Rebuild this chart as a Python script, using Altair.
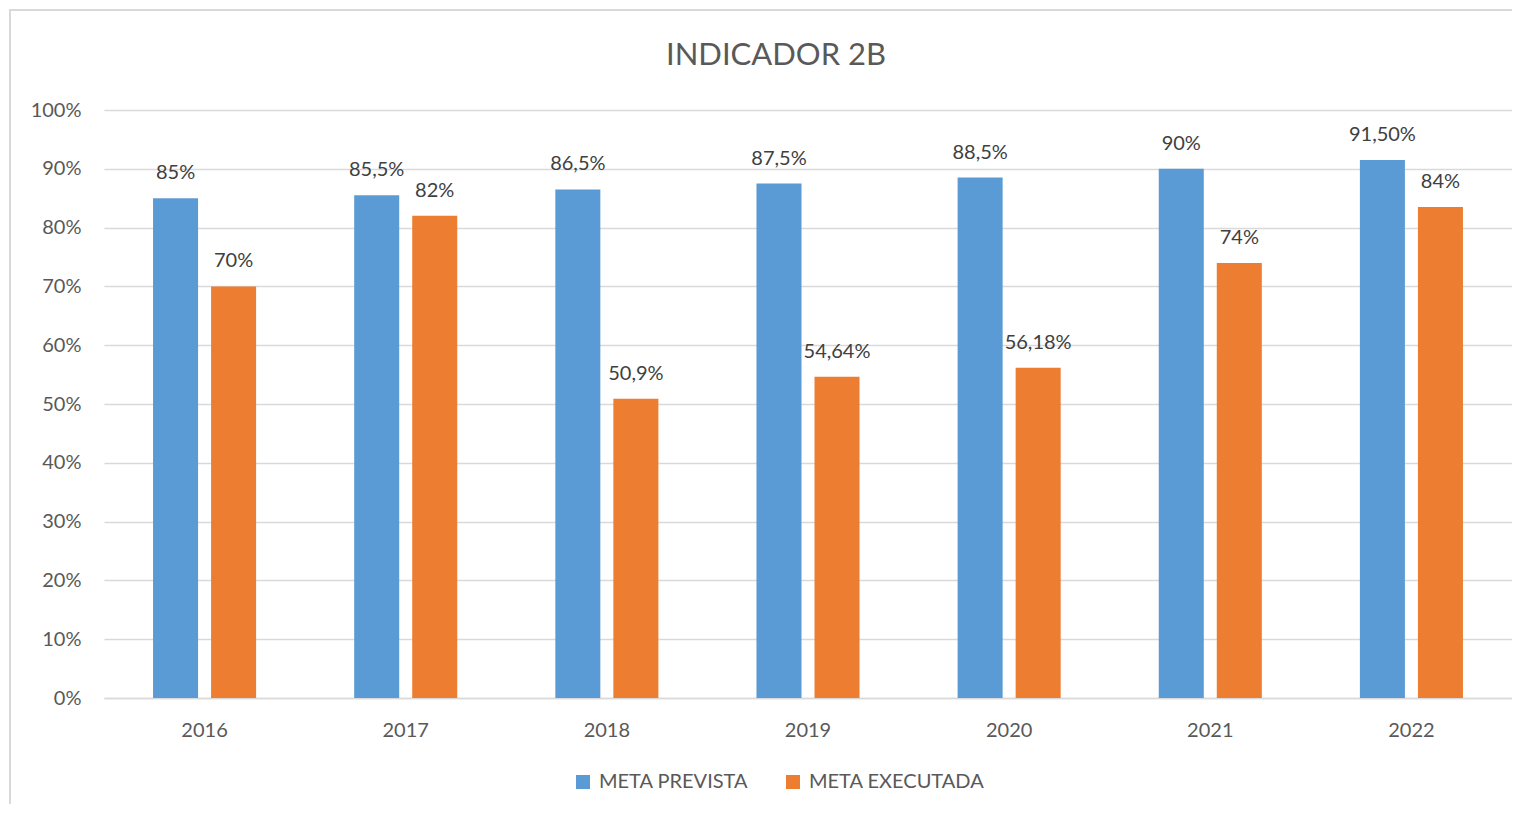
import altair as alt
import pandas as pd

years = ["2016", "2017", "2018", "2019", "2020", "2021", "2022"]
prevista = [85, 85.5, 86.5, 87.5, 88.5, 90, 91.5]
executada = [70, 82, 50.9, 54.64, 56.18, 74, 83.5]
prevista_labels = ["85%", "85,5%", "86,5%", "87,5%", "88,5%", "90%", "91,50%"]
executada_labels = ["70%", "82%", "50,9%", "54,64%", "56,18%", "74%", "84%"]
series = ["META PREVISTA", "META EXECUTADA"]
colors = ["#5B9BD5", "#ED7D31"]
title_text = "INDICADOR 2B"

rows = []
for i, y in enumerate(years):
    rows.append({"year": y, "serie": series[0], "value": prevista[i] / 100, "label": prevista_labels[i]})
    rows.append({"year": y, "serie": series[1], "value": executada[i] / 100, "label": executada_labels[i]})
df = pd.DataFrame(rows)

FONT = "Lato"
W, H = 1408, 588

base = alt.Chart(df).encode(
    x=alt.X("year:N", sort=years, title=None,
            scale=alt.Scale(paddingInner=0.4876, paddingOuter=0.2438),
            axis=alt.Axis(labelAngle=0, labelFontSize=20, labelColor="#595959", labelFont=FONT,
                          labelPadding=22, ticks=False, domain=True, domainColor="#D9D9D9",
                          domainWidth=1.5, grid=False)),
    xOffset=alt.XOffset("serie:N", sort=series,
                        scale=alt.Scale(domain=series, paddingInner=0.224, paddingOuter=0)),
    y=alt.Y("value:Q", title=None,
            scale=alt.Scale(domain=[0, 1], nice=False),
            axis=alt.Axis(format=".0%", values=[i / 10 for i in range(11)], labelFontSize=20,
                          labelColor="#595959", labelFont=FONT, labelPadding=23, ticks=False,
                          domain=False, gridColor="#D9D9D9", gridWidth=1.5)),
)

bars = base.mark_bar().encode(
    color=alt.Color("serie:N", sort=series,
                    scale=alt.Scale(domain=series, range=colors),
                    legend=alt.Legend(title=None, orient="none", legendX=469, legendY=662,
                                      direction="horizontal", symbolType="square",
                                      symbolSize=196, symbolStrokeWidth=0, labelFontSize=20,
                                      labelColor="#595959", labelFont=FONT, columnPadding=34,
                                      labelOffset=6, labelLimit=400)),
)

labels = base.mark_text(baseline="middle", dy=-25, fontSize=20, color="#404040", font=FONT).encode(
    text="label:N",
)

one = pd.DataFrame({"a": [0]})
border = alt.Chart(one).mark_rect(
    fillOpacity=0, stroke="#D9D9D9", strokeWidth=2
).encode(
    x=alt.value(-94), x2=alt.value(W + 100), y=alt.value(-100), y2=alt.value(H + 200)
)

title = alt.Chart(one).mark_text(
    fontSize=31, color="#595959", font=FONT, baseline="middle", align="center"
).encode(
    x=alt.value(672), y=alt.value(-54), text=alt.value(title_text)
)

chart = alt.layer(border, title, bars, labels).properties(
    width=W, height=H,
    autosize=alt.AutoSizeParams(type="none"),
    padding={"left": 96, "top": 102, "right": 0, "bottom": 106},
).configure_view(stroke=None)

chart.save("out.html", embed_options={"renderer": "svg", "actions": False})
